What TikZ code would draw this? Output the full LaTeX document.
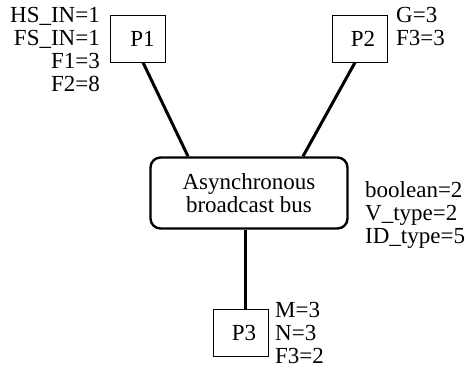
\documentclass[tikz,border=0pt]{standalone}
\usepackage{fontspec}
\setmainfont{LiberationSerif}[Extension=.ttf,UprightFont=*-Regular,BoldFont=*-Bold]
\usetikzlibrary{calc}
\begin{document}
\begin{tikzpicture}[x=1pt,y=-1pt,
  every node/.style={font=\fontsize{23}{23}\selectfont},
  pbox/.style={draw,line width=1pt,minimum width=55pt,minimum height=47pt,inner sep=0pt},
  busbox/.style={draw,line width=2.4pt,rounded corners=10pt,minimum width=197pt,minimum height=71pt,inner sep=0pt,align=center},
  conn/.style={line width=3pt},
  vals/.style={inner sep=0pt}]
\useasboundingbox (0,0) rectangle (466,368);
\node[pbox,label={[xshift=5pt]center:P1}] (p1) at (137.5,38.5) {};
\node[pbox,label={[xshift=3pt]center:P2}] (p2) at (360,38.5) {};
\node[pbox,label={[xshift=3pt]center:P3}] (p3) at (241,332.5) {};
\node[busbox] (bus) at (249,193) {Asynchronous\\broadcast bus};
\draw[conn] ($(p1.south)+(5.5,0)$) -- ($(bus.north)+(-61,0)$);
\draw[conn] ($(p2.south)+(-5,0)$) -- ($(bus.north)+(54,0)$);
\draw[conn] ($(bus.south)+(-4,0)$) -- ($(p3.north)+(4,0)$);
\node[vals,anchor=north east,align=right] (l1) at (100,7.5) {HS\_IN=1\\FS\_IN=1\\F1=3\\F2=8};
\node[vals,anchor=north west,align=left] (l2) at (396,7.5) {G=3\\F3=3};
\node[vals,anchor=north west,align=left] (lb) at (365,181) {boolean=2\\V\_type=2\\ID\_type=5};
\node[vals,anchor=north west,align=left] (l3) at (275,302) {M=3\\N=3\\F3=2};
\end{tikzpicture}
\end{document}
